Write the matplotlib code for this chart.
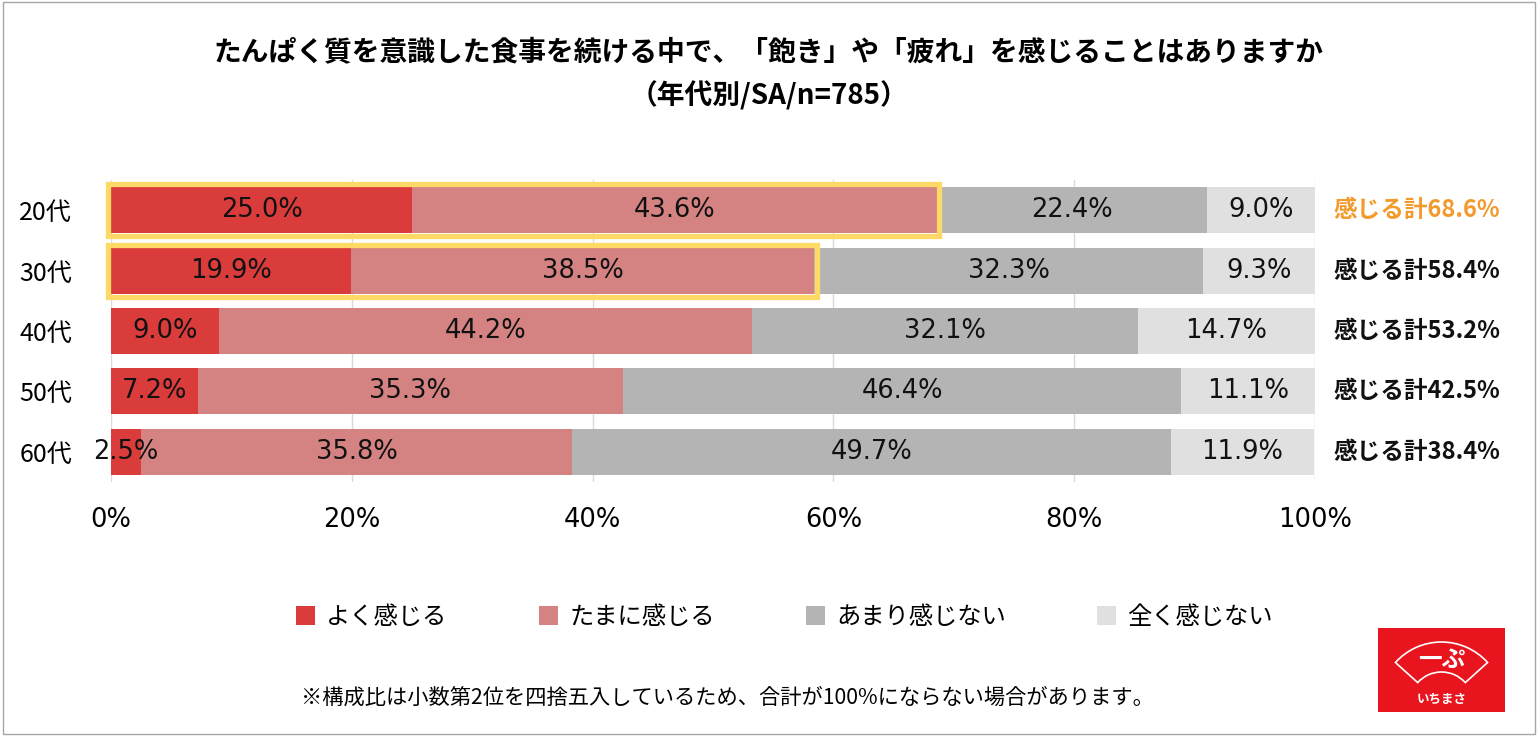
import matplotlib.pyplot as plt
from matplotlib.patches import Rectangle, Patch, Wedge

plt.rcParams['font.family'] = ['Noto Sans CJK JP', 'DejaVu Sans']

ages = ['20代', '30代', '40代', '50代', '60代']
often = [25.0, 19.9, 9.0, 7.2, 2.5]
sometimes = [43.6, 38.5, 44.2, 35.3, 35.8]
rarely = [22.4, 32.3, 32.1, 46.4, 49.7]
never = [9.0, 9.3, 14.7, 11.1, 11.9]
feel_total = [68.6, 58.4, 53.2, 42.5, 38.4]
series_names = ['よく感じる', 'たまに感じる', 'あまり感じない', '全く感じない']
colors = ['#DA3B3B', '#D48282', '#B4B4B4', '#E0E0E0']
highlight_rows = [0, 1]

title = 'たんぱく質を意識した食事を続ける中で、「飽き」や「疲れ」を感じることはありますか\n（年代別/SA/n=785）'
note = '※構成比は小数第2位を四捨五入しているため、合計が100%にならない場合があります。'

fig = plt.figure(figsize=(15.38, 7.36), dpi=100)
ax = fig.add_axes([0.0722, 0.3451, 0.7828, 0.4103])

ypos = list(range(len(ages)))
bar_h = 0.76
left = [0.0] * len(ages)
for vals, col in zip([often, sometimes, rarely, never], colors):
    ax.barh(ypos, vals, left=left, height=bar_h, color=col, zorder=2)
    for i, v in enumerate(vals):
        ax.text(left[i] + v / 2, ypos[i], f'{v:.1f}%', ha='center', va='center',
                fontsize=18.5, family='DejaVu Sans', color='#111111', zorder=4)
    left = [l + v for l, v in zip(left, vals)]

# yellow frames around "feel" total for 20s and 30s
for i in highlight_rows:
    ax.add_patch(Rectangle((-0.25, ypos[i] - 0.43), feel_total[i] + 0.45, 0.86,
                           fill=False, edgecolor='#FFD966', linewidth=3.8,
                           zorder=5, clip_on=False))

# totals on the right
for i, t in enumerate(feel_total):
    ax.text(1.015, ypos[i], f'感じる計{t:.1f}%', transform=ax.get_yaxis_transform(),
            ha='left', va='center', fontsize=17, fontweight='bold',
            color='#F39A2C' if i == 0 else '#111111')

ax.set_xlim(0, 100)
ax.set_ylim(len(ages) - 0.5, -0.5)
ax.set_xticks([0, 20, 40, 60, 80, 100])
ax.set_xticklabels([f'{v}%' for v in [0, 20, 40, 60, 80, 100]], family='DejaVu Sans')
ax.set_yticks(ypos)
ax.set_yticklabels(ages)
ax.tick_params(axis='x', length=0, pad=18, labelsize=18.5)
ax.tick_params(axis='y', length=0, pad=28, labelsize=18)
ax.grid(axis='x', color='#D9D9D9', linewidth=1, zorder=0)
for s in ax.spines.values():
    s.set_visible(False)

fig.text(0.5, 0.899, title, ha='center', va='center', fontsize=20,
         fontweight='bold', linespacing=1.65)

handles = [Patch(facecolor=c, edgecolor='none') for c in colors]
fig.legend(handles, series_names, loc='center', bbox_to_anchor=(0.51, 0.162),
           ncol=4, frameon=False, fontsize=17.5, handlelength=0.8, handleheight=0.8,
           handletextpad=0.45, columnspacing=3.75)

fig.text(0.473, 0.052, note, ha='center', va='center', fontsize=15.3)

# logo
lax = fig.add_axes([1378 / 1538, 24 / 736, 127 / 1538, 84 / 736])
lax.set_xlim(0, 127)
lax.set_ylim(0, 84)
lax.axis('off')
lax.add_patch(Rectangle((0, 0), 127, 84, facecolor='#E8141E', edgecolor='none'))
lax.add_patch(Wedge((63.5, 8), 62, 42, 138, width=30, facecolor='none',
                    edgecolor='white', linewidth=1.2))
lax.text(63.5, 52, '一ぷ', ha='center', va='center', fontsize=17,
         fontweight='bold', color='white')
lax.text(63.5, 13, 'いちまさ', ha='center', va='center', fontsize=9,
         fontweight='bold', color='white')

# outer frame
fig.add_artist(Rectangle((0.002, 0.003), 0.996, 0.994, transform=fig.transFigure,
                         fill=False, edgecolor='#A6A6A6', linewidth=1))

fig.savefig('out.png', dpi=100)
